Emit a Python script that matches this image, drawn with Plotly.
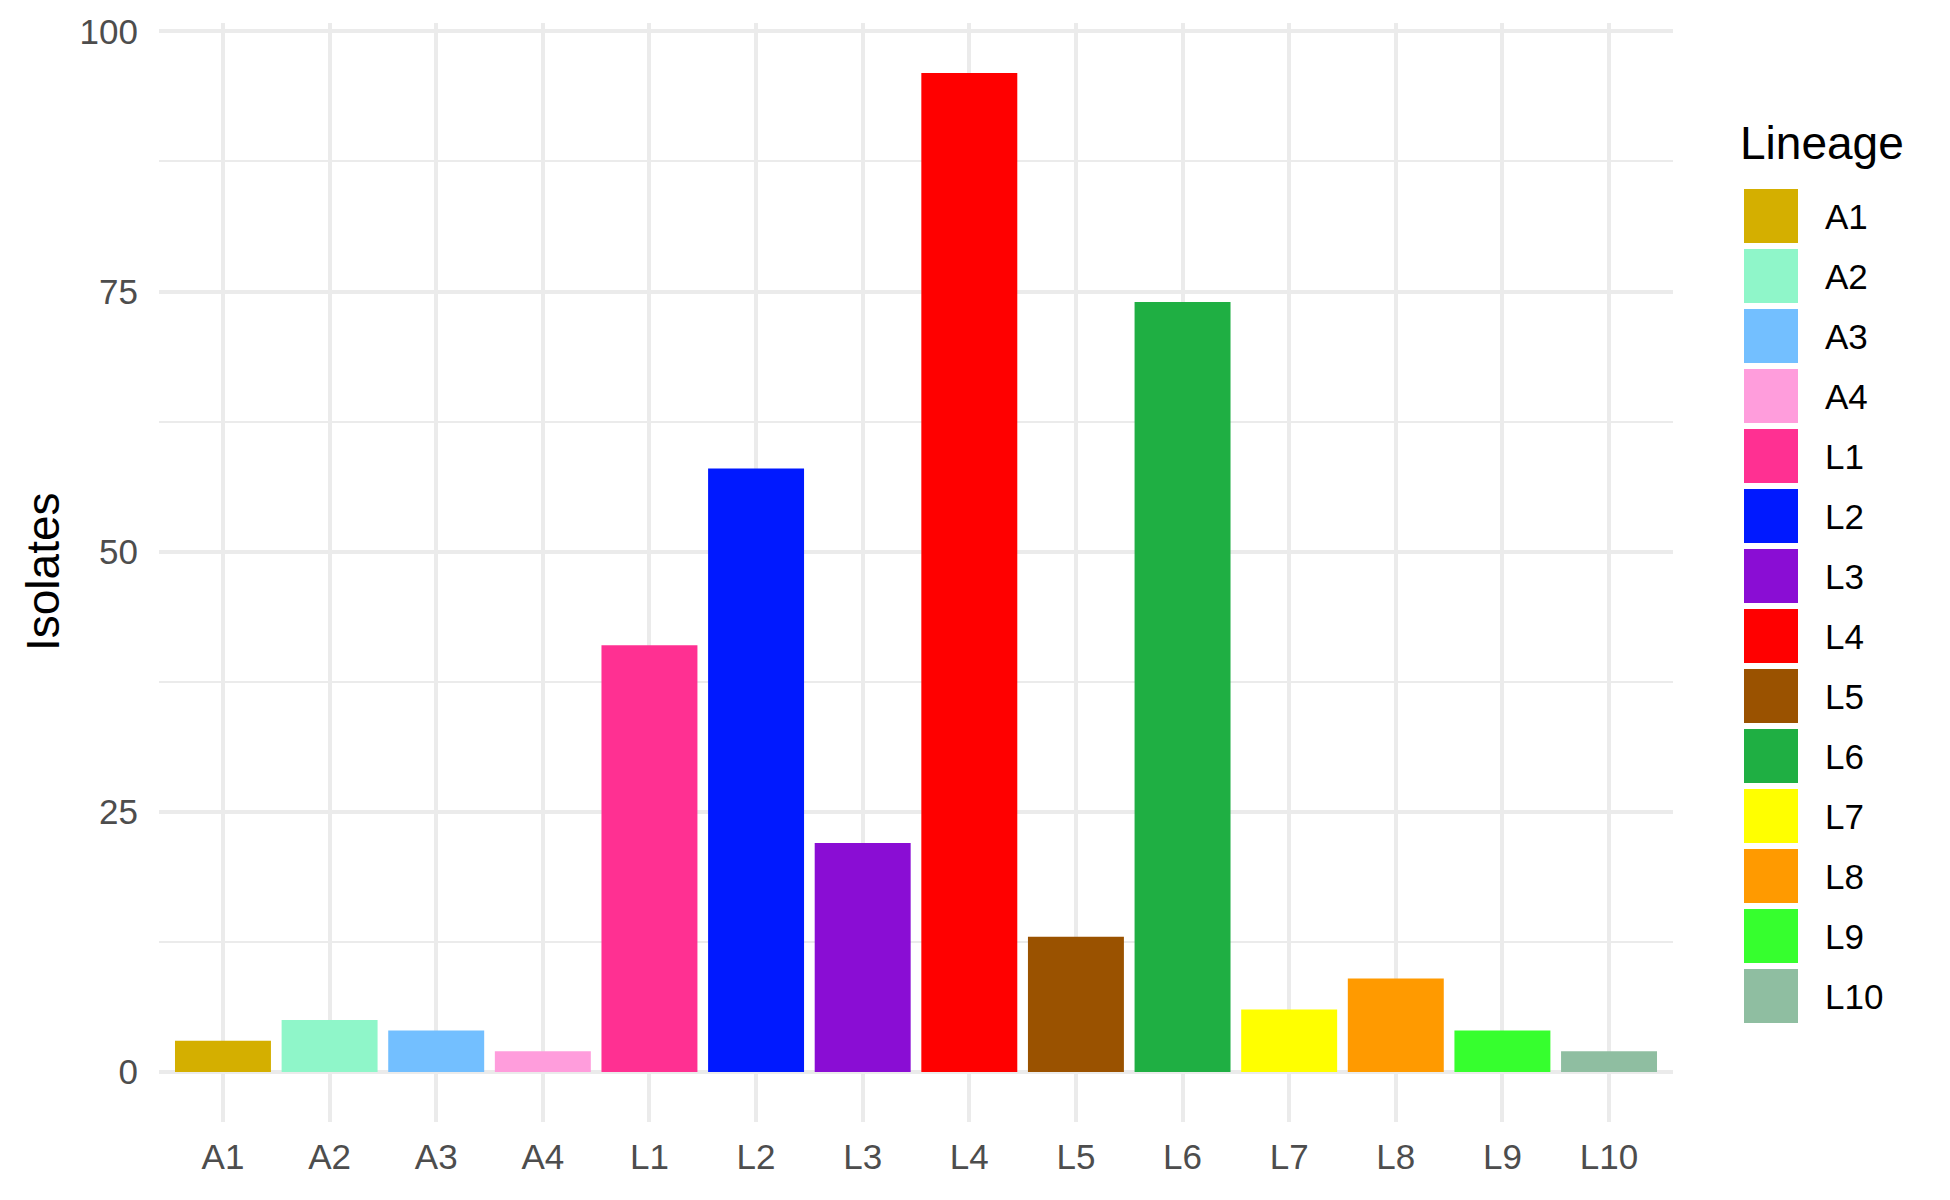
import plotly.graph_objects as go

lineages = ['A1', 'A2', 'A3', 'A4', 'L1', 'L2', 'L3', 'L4', 'L5', 'L6', 'L7', 'L8', 'L9', 'L10']
isolates = [3, 5, 4, 2, 41, 58, 22, 96, 13, 74, 6, 9, 4, 2]
colours = ['#D4AF00', '#8FF6C9', '#73BFFF', '#FF9DDC', '#FF3092', '#0019FF', '#8A0DD4',
           '#FF0000', '#9A5200', '#1FAF43', '#FFFF00', '#FF9A00', '#36FF2E', '#8FBEA1']

W, H = 1950, 1200
FONT = 'Liberation Sans, Arial, sans-serif'
GRID = '#EBEBEB'

fig = go.Figure()

fig.add_trace(go.Bar(
    x=lineages, y=isolates, width=0.9,
    marker=dict(color=colours, line=dict(width=0)),
    showlegend=False, hoverinfo='x+y',
))

# hand-made legend on its own axes so the keys can be as big as ggplot's
fig.add_trace(go.Scatter(
    x=[41] * len(lineages), y=lineages, mode='markers',
    marker=dict(symbol='square', size=54, color=colours, line=dict(width=0)),
    xaxis='x2', yaxis='y2', showlegend=False, hoverinfo='skip', cliponaxis=False,
))
fig.add_trace(go.Scatter(
    x=[95] * len(lineages), y=lineages, mode='text', text=lineages,
    textposition='middle right', textfont=dict(family=FONT, size=35, color='black'),
    xaxis='x2', yaxis='y3', showlegend=False, hoverinfo='skip', cliponaxis=False,
))

legend_y = dict(range=[13.5, -0.5], categoryorder='array', categoryarray=lineages,
                visible=False, fixedrange=True, anchor='x2')

fig.update_layout(
    width=W, height=H,
    margin=dict(l=0, r=0, t=0, b=0),
    paper_bgcolor='white', plot_bgcolor='rgba(0,0,0,0)',
    font=dict(family=FONT, size=35, color='#4D4D4D'),
    bargap=0.1,
    xaxis=dict(
        domain=[159 / W, 1673 / W], range=[-0.6, 13.6],
        categoryorder='array', categoryarray=lineages,
        showgrid=True, gridcolor=GRID, gridwidth=4,
        showline=False, zeroline=False, ticks='', ticklabelstandoff=11,
        tickfont=dict(size=35, color='#4D4D4D'), automargin=False,
    ),
    yaxis=dict(
        domain=[1 - 1122 / H, 1 - 23 / H], range=[-4.8, 100.8],
        tickmode='array', tickvals=[0, 25, 50, 75, 100],
        showgrid=True, gridcolor=GRID, gridwidth=4,
        minor=dict(tickmode='array', tickvals=[12.5, 37.5, 62.5, 87.5],
                   showgrid=True, gridcolor=GRID, gridwidth=2.3),
        showline=False, zeroline=False, ticks='', ticklabelstandoff=20,
        tickfont=dict(size=35, color='#4D4D4D'), automargin=False,
    ),
    xaxis2=dict(domain=[1730 / W, 1], range=[0, 220], visible=False, fixedrange=True),
    yaxis2=dict(domain=[1 - 1026 / H, 1 - 186 / H], **legend_y),
    yaxis3=dict(domain=[1 - 1030 / H, 1 - 190 / H], **legend_y),
    annotations=[
        dict(text='Isolates', x=43 / W, y=1 - 572 / H, xref='paper', yref='paper',
             textangle=-90, showarrow=False, xanchor='center', yanchor='middle',
             font=dict(family=FONT, size=46, color='black')),
        dict(text='Lineage', x=1738 / W, y=1 - 143 / H, xref='paper', yref='paper',
             showarrow=False, xanchor='left', yanchor='middle',
             font=dict(family=FONT, size=46, color='black')),
    ],
)

# page has a default 8px body margin; drop it so the figure sits at the corner
fig.write_html('out.html', config={'displayModeBar': False},
               post_script="document.body.style.margin='0';")
